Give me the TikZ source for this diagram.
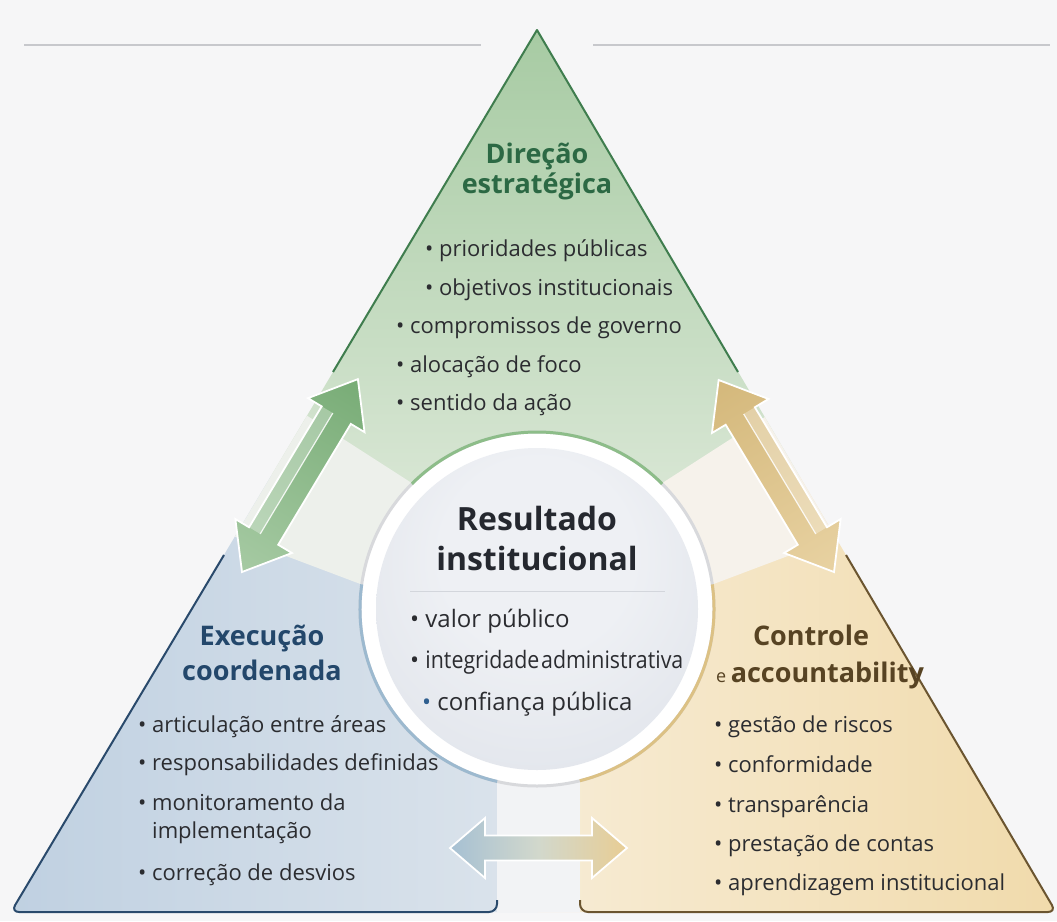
\documentclass[tikz,border=0pt]{standalone}
\usepackage{fontspec}
\setmainfont{Open Sans}
\usepackage{graphicx}

\definecolor{paper}{HTML}{F6F6F7}
\definecolor{rule}{HTML}{C7C8CC}
\definecolor{dirtop}{HTML}{A4C9A0}
\definecolor{dirbot}{HTML}{E4EDE0}
\definecolor{exeleft}{HTML}{BFD0E1}
\definecolor{exeright}{HTML}{DCE4EC}
\definecolor{ctlleft}{HTML}{F7ECD5}
\definecolor{ctlright}{HTML}{F0D9A8}
\definecolor{gapgreen}{HTML}{EDF0EB}
\definecolor{gapgold}{HTML}{F6F2EB}
\definecolor{gapblue}{HTML}{F2F3F5}
\definecolor{diredge}{HTML}{3F7D4E}
\definecolor{exeedge}{HTML}{2A4A6C}
\definecolor{ctledge}{HTML}{6B5530}
\definecolor{dirtitle}{HTML}{2C6944}
\definecolor{exetitle}{HTML}{23476B}
\definecolor{ctltitle}{HTML}{574323}
\definecolor{restitle}{HTML}{25282F}
\definecolor{ink}{HTML}{2B2C30}
\definecolor{dotblue}{HTML}{2F5F8F}
\definecolor{arcgray}{HTML}{D8D9DC}
\definecolor{arcgreen}{HTML}{8DBD89}
\definecolor{arcblue}{HTML}{9CB9CF}
\definecolor{arcgold}{HTML}{DCC184}
\definecolor{discin}{HTML}{EEF0F4}
\definecolor{discout}{HTML}{D6DBE4}
\definecolor{sepline}{HTML}{D3D6DC}
\definecolor{grndark}{HTML}{78AC76}
\definecolor{grnlight}{HTML}{A6CAA3}
\definecolor{golddark}{HTML}{D4B87B}
\definecolor{goldlight}{HTML}{E8D2A2}
\definecolor{arrblue}{HTML}{A6C0D3}
\definecolor{arrgold}{HTML}{E8CD94}
\definecolor{arrmid}{HTML}{D2D8CC}

\pgfdeclareradialshading{disc}{\pgfpoint{0bp}{12bp}}{color(0bp)=(discin); color(15bp)=(discin); color(50bp)=(discout)}

% length, half shaft, half head, head length
\newcommand{\twoheadpath}[4]{(0,0) -- (#4,#3) -- (#4,#2) -- (#1-#4,#2) -- (#1-#4,#3) -- (#1,0) -- (#1-#4,-#3) -- (#1-#4,-#2) -- (#4,-#2) -- (#4,-#3) -- cycle}

\tikzset{every node/.style={inner sep=0pt},
headtext/.style={font=\fontsize{27}{31}\selectfont\bfseries, anchor=base},
coretext/.style={font=\fontsize{32}{36}\selectfont\bfseries, anchor=base, text=restitle},
itemtext/.style={font=\fontsize{22}{26}\selectfont, text=ink, anchor=base west},
coreitemtext/.style={itemtext, font=\fontsize{24}{28}\selectfont},
sideline/.style={line width=2pt, line join=round},
ringline/.style={line width=3pt},
arrowrim/.style={draw=white, line width=1.8pt}}

\begin{document}
\begin{tikzpicture}[x=1pt, y=-1pt]
	\useasboundingbox (0,0) rectangle (1057,921);
	\fill[paper] (0,0) rectangle (1057,921);
	\draw[rule, line width=2.5pt] (24,45) -- (481,45);
	\draw[rule, line width=2.5pt] (593,45) -- (1050,45);

	\coordinate (apex) at (537,30);
	\coordinate (bl) at (11,912);
	\coordinate (br) at (1056,912);
	\coordinate (O) at (537,609);

	% the three parts of the triangle and the bands between them
	\begin{scope}
		\clip (apex) [rounded corners=8pt] -- (br) -- (bl) [sharp corners] -- cycle;
		\shade[top color=dirtop, bottom color=dirbot] (215,447) -- (O) -- (859,447) -- (859,0) -- (215,0) -- cycle;
		\shade[left color=exeleft, right color=exeright] (215,447) -- (O) -- (538,1000) -- (0,1000) -- (0,447) -- cycle;
		\shade[left color=ctlleft, right color=ctlright] (859,447) -- (O) -- (538,1000) -- (1100,1000) -- (1100,447) -- cycle;
		\fill[gapgreen] (250,379) -- (477,525) -- (432,611) -- (180,516) -- cycle;
		\fill[gapgold] (824,379) -- (597,525) -- (642,611) -- (894,516) -- cycle;
		\fill[gapblue] (497,700) rectangle (580,930);
	\end{scope}

	\draw[sideline, diredge] (333,372) -- (apex) -- (738,372);
	\draw[sideline, exeedge, rounded corners=8pt] (224,555) -- (bl) -- (497,912) -- (497,900);
	\draw[sideline, ctledge, rounded corners=8pt] (580,900) -- (580,912) -- (br) -- (846,555);

	% arrows between the parts
	\begin{scope}[transform canvas={shift={(242,572)}, rotate=59}]
		\shade[left color=grnlight, right color=grndark, arrowrim] \twoheadpath{225}{17}{33}{42};
		\fill[white, opacity=.3] (42,-17) rectangle (183,-4);
		\draw[white, opacity=.85, line width=1.2pt] (42,-4) -- (183,-4);
	\end{scope}
	\begin{scope}[transform canvas={shift={(834,572)}, rotate=121}]
		\shade[left color=goldlight, right color=golddark, arrowrim] \twoheadpath{224}{17}{33}{42};
		\fill[white, opacity=.3] (42,4) rectangle (182,17);
		\draw[white, opacity=.85, line width=1.2pt] (42,4) -- (182,4);
	\end{scope}
	\begin{scope}[shift={(450,848)}]
		\shade[left color=arrblue, right color=arrgold, middle color=arrmid, arrowrim] \twoheadpath{177}{12.5}{30}{35};
	\end{scope}

	% centre disc
	\draw[ringline, arcgray, fill=white] (O) circle (177);
	\draw[ringline, arcgreen] (O) ++(225:177) arc[start angle=225, end angle=315, radius=177];
	\draw[ringline, arcblue] (O) ++(103:177) arc[start angle=103, end angle=188, radius=177];
	\draw[ringline, arcgold] (O) ++(-8:177) arc[start angle=-8, end angle=76, radius=177];
	\shade[shading=disc] (O) circle (161);
	\draw[sepline, line width=1pt] (410,591) -- (665,591);

	\node[headtext, text=dirtitle] (dirA) at (537,163) {Direção};
	\node[headtext, text=dirtitle] (dirB) at (537,193) {estratégica};
	\node[itemtext] (dir1) at (425,256) {• prioridades públicas};
	\node[itemtext] (dir2) at (425,295) {• objetivos institucionais};
	\node[itemtext] (dir3) at (396,333) {• compromissos de governo};
	\node[itemtext] (dir4) at (396,372) {• alocação de foco};
	\node[itemtext] (dir5) at (396,410) {• sentido da ação};

	\node[coretext] (resA) at (537,530) {Resultado};
	\node[coretext] (resB) at (537,570) {institucional};
	\node[coreitemtext] (res1) at (410,627) {• valor público};
	\node[coreitemtext] (res2) at (410,668) {• \scalebox{0.89}[1]{integridade\hspace{2pt}administrativa}};
	\node[coreitemtext] (res3) at (422,710) {{\color{dotblue}•} confiança pública};

	\node[headtext, text=exetitle] (exeA) at (262,645) {Execução};
	\node[headtext, text=exetitle] (exeB) at (262,680) {coordenada};
	\node[itemtext] (exe1) at (138,732) {• articulação entre áreas};
	\node[itemtext] (exe2) at (138,770) {• responsabilidades definidas};
	\node[itemtext] (exe3) at (138,810) {• monitoramento da};
	\node[itemtext] (exe3b) at (152,838) {implementação};
	\node[itemtext] (exe4) at (138,880) {• correção de desvios};

	\node[headtext, text=ctltitle] (ctlA) at (811,645) {Controle};
	\node[headtext, text=ctltitle, anchor=base west] (ctlB) at (716,682) {{\mdseries\fontsize{18}{20}\selectfont e}\,accountability};
	\node[itemtext] (ctl1) at (714,732) {• gestão de riscos};
	\node[itemtext] (ctl2) at (714,772) {• conformidade};
	\node[itemtext] (ctl3) at (714,812) {• transparência};
	\node[itemtext] (ctl4) at (714,851) {• prestação de contas};
	\node[itemtext] (ctl5) at (714,890) {• aprendizagem institucional};
\end{tikzpicture}
\end{document}
